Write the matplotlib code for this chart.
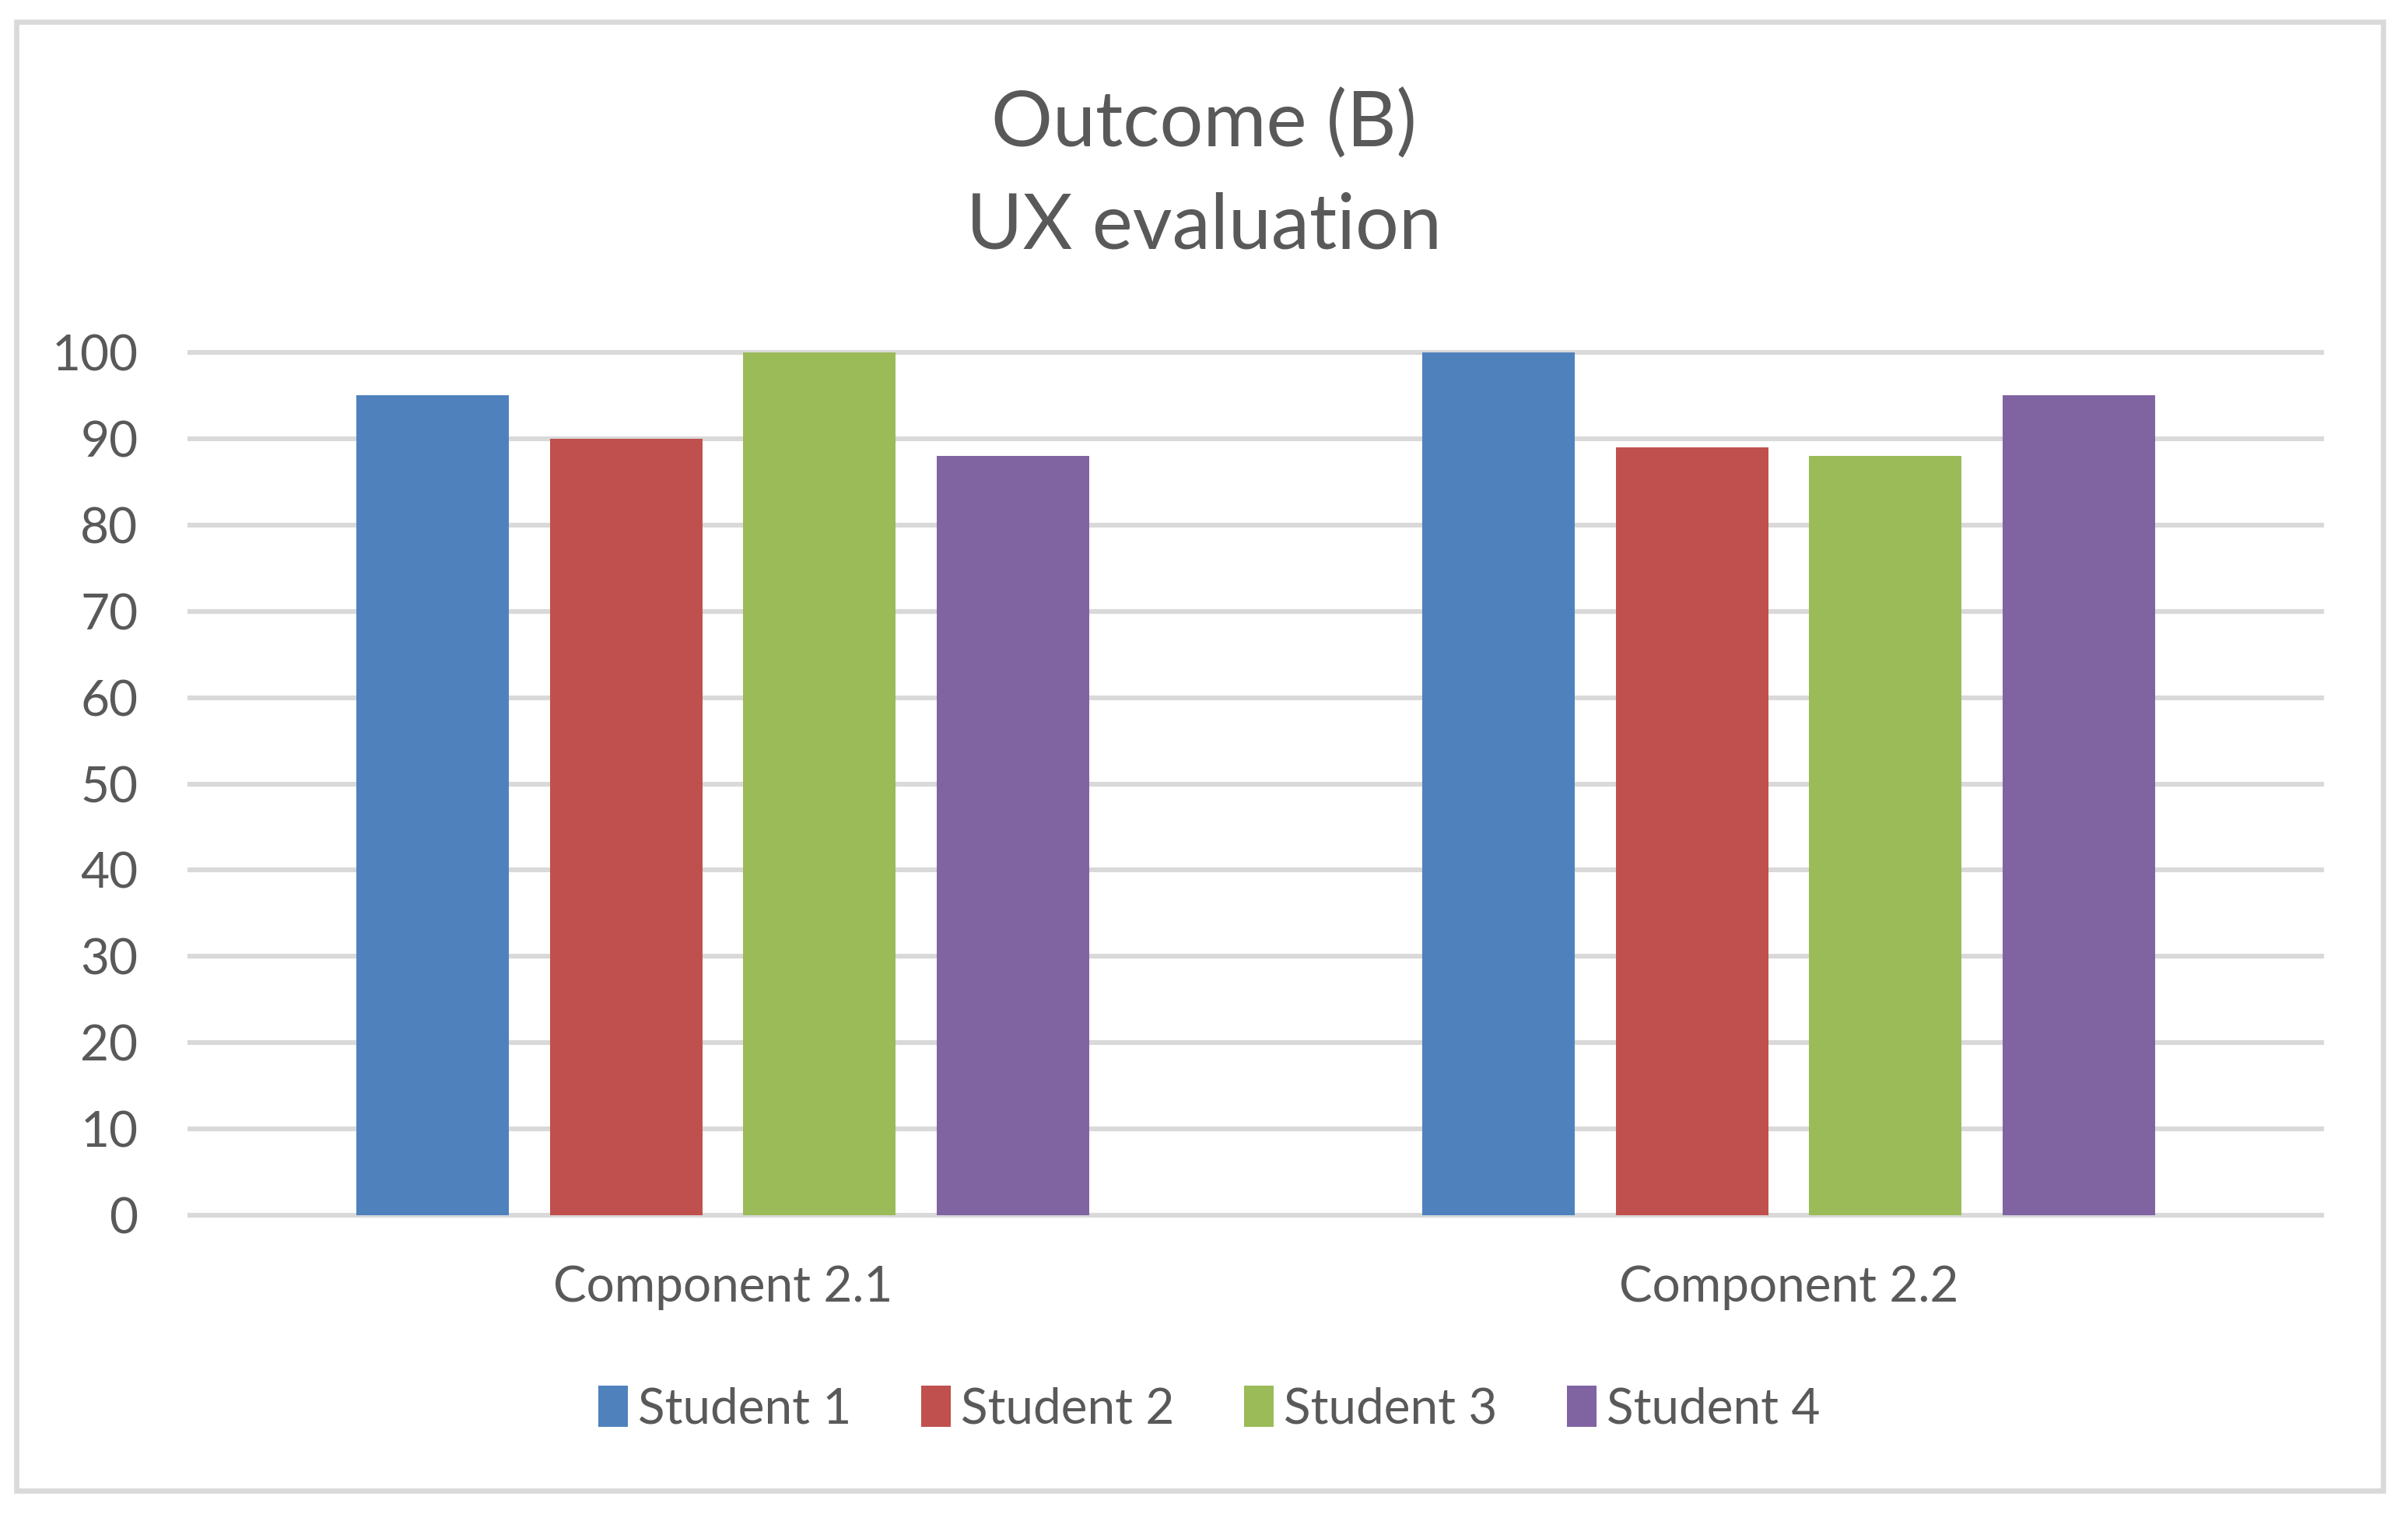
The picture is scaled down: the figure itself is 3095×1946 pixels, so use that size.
import matplotlib
matplotlib.use("Agg")
import matplotlib.pyplot as plt
from matplotlib.patches import Rectangle
import numpy as np

categories = ["Component 2.1", "Component 2.2"]
series_names = ["Student 1", "Student 2", "Student 3", "Student 4"]
student1 = [95, 100]
student2 = [90, 89]
student3 = [100, 88]
student4 = [88, 95]
series_values = [student1, student2, student3, student4]
yticks = [0, 10, 20, 30, 40, 50, 60, 70, 80, 90, 100]
title_lines = ["Outcome (B)", "UX evaluation"]

colors = ["#4F81BD", "#C0504D", "#9BBB59", "#8064A2"]
text_color = "#595959"
grid_color = "#D9D9D9"

plt.rcParams['font.family'] = ['Lato', 'DejaVu Sans']

W, H = 3095, 1946
dpi = 200
fig = plt.figure(figsize=(W / dpi, H / dpi), dpi=dpi)
fig.patch.set_facecolor("white")

# outer border
fig.patches.append(Rectangle((21 / W, 1 - 1916 / H), (3063 - 21) / W, (1916 - 28) / H,
                             transform=fig.transFigure, fill=False,
                             edgecolor=grid_color, linewidth=2.4))

ax = fig.add_axes([244 / W, 1 - 1562 / H, (2984 - 244) / W, (1562 - 453) / H])
x = np.arange(len(categories))
pitch = 0.1816
width = 0.143
for i, (name, vals) in enumerate(zip(series_names, series_values)):
    ax.bar(x + (i - 1.5) * pitch, vals, width=width, color=colors[i], label=name, zorder=3)

ax.set_xlim(-0.5, 1.5)
ax.set_ylim(0, 100)
for yv in yticks:
    ax.axhline(yv, color=grid_color, linewidth=2.2, zorder=1, clip_on=False)
for s in ax.spines.values():
    s.set_visible(False)
ax.set_yticks(yticks)
ax.set_yticklabels([str(v) for v in yticks])
ax.set_xticks(x)
ax.set_xticklabels(categories)
ax.tick_params(axis='y', length=0, pad=24, labelsize=23, labelcolor=text_color)
ax.tick_params(axis='x', length=0, pad=23, labelsize=23, labelcolor=text_color)

fig.text(0.5, 1 - 160 / H, title_lines[0], ha='center', va='center', fontsize=35.5, color=text_color)
fig.text(0.5, 1 - 291 / H, title_lines[1], ha='center', va='center', fontsize=35.5, color=text_color)

leg = fig.legend(loc='center', bbox_to_anchor=(1554 / W, 1 - 1811 / H), ncol=4, frameon=False,
                 fontsize=23, handlelength=0.6, handleheight=0.9, handletextpad=0.2,
                 columnspacing=1.4)
for t in leg.get_texts():
    t.set_color(text_color)

fig.savefig("out.png", dpi=dpi, facecolor="white")
